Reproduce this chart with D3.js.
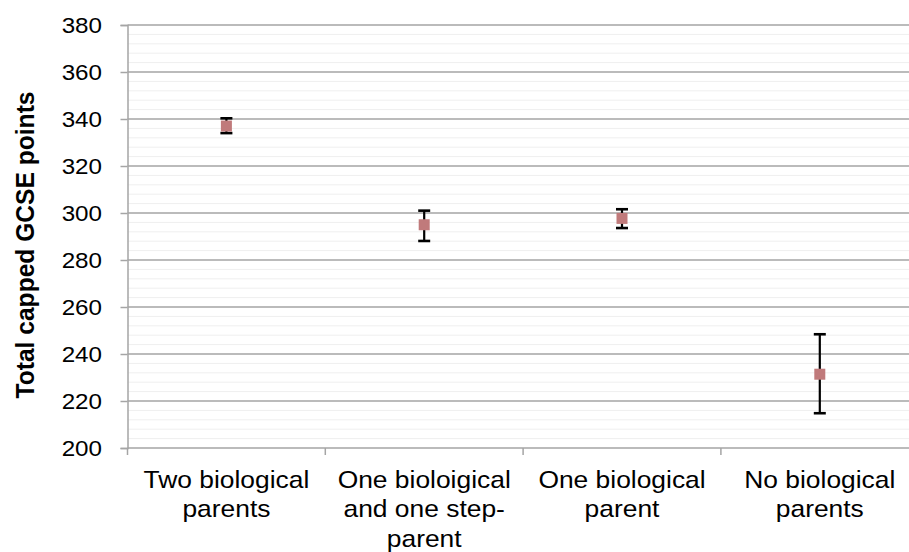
<!DOCTYPE html>
<html>
<head>
<meta charset="utf-8">
<script src="https://cdn.jsdelivr.net/npm/d3@7"></script>
<style>
  html, body { margin: 0; padding: 0; background: #fff; overflow: hidden; }
  svg { display: block; font-family: "Liberation Sans", Arial, sans-serif; }
</style>
</head>
<body>
<svg id="chart" width="909" height="552"></svg>
<script>
// Household structure categories (each label split into display lines)
const categories = [
  ["Two biological", "parents"],
  ["One bioloigical", "and one step-", "parent"],
  ["One biological", "parent"],
  ["No biological", "parents"]
];
// Mean total capped GCSE points and confidence bounds
const means = [337, 295, 297.7, 231.4];
const lower = [334, 288.1, 293.6, 214.8];
const upper = [340.3, 301, 301.6, 248.4];
const yTicks = [200, 220, 240, 260, 280, 300, 320, 340, 360, 380];

const svg = d3.select("#chart");
const margin = { left: 127.5, top: 25, bottom: 448, right: 918.7 };
const FONT = "Liberation Sans, Arial, sans-serif";

const x = d3.scaleBand()
  .domain(d3.range(categories.length))
  .range([margin.left, margin.right])
  .paddingInner(0).paddingOuter(0);

const y = d3.scaleLinear().domain([200, 380]).range([margin.bottom, margin.top]);

// minor gridlines every 4 points
const minor = d3.range(200, 381, 4).filter(v => v % 20 !== 0);
svg.append("g").selectAll("line").data(minor).join("line")
  .attr("x1", margin.left).attr("x2", margin.right)
  .attr("y1", d => y(d)).attr("y2", d => y(d))
  .attr("stroke", "#efefef").attr("stroke-width", 1);

// major gridlines
svg.append("g").selectAll("line").data(yTicks.filter(v => v !== 200)).join("line")
  .attr("x1", margin.left).attr("x2", margin.right)
  .attr("y1", d => y(d)).attr("y2", d => y(d))
  .attr("stroke", "#a5a5a5").attr("stroke-width", 1.5);

// y axis
const yAxis = d3.axisLeft(y).tickValues(yTicks).tickSize(7).tickPadding(0).tickFormat(d3.format("d"));
const gy = svg.append("g").attr("transform", `translate(${margin.left},0)`).call(yAxis);
gy.select(".domain").attr("stroke", "#a5a5a5").attr("stroke-width", 1.5);
gy.selectAll(".tick line").attr("stroke", "#a5a5a5").attr("stroke-width", 1.5);
gy.selectAll(".tick text")
  .attr("x", null)
  .attr("font-size", 22).attr("fill", "#000").attr("font-family", FONT)
  .attr("transform", "translate(-25.5,0) scale(1.1,1)");

// x axis baseline and category boundary ticks
const boundaries = d3.range(categories.length + 1).map(i => margin.left + i * x.bandwidth());
svg.append("line")
  .attr("x1", margin.left).attr("x2", margin.right)
  .attr("y1", y(200)).attr("y2", y(200))
  .attr("stroke", "#a5a5a5").attr("stroke-width", 1.5);
svg.append("g").selectAll("line").data(boundaries).join("line")
  .attr("x1", d => d).attr("x2", d => d)
  .attr("y1", y(200)).attr("y2", y(200) + 7)
  .attr("stroke", "#a5a5a5").attr("stroke-width", 1.5);

// category labels
const labels = svg.append("g").selectAll("text").data(categories).join("text")
  .attr("transform", (d, i) => `translate(${x(i) + x.bandwidth() / 2},488) scale(1.1,1)`)
  .attr("text-anchor", "middle")
  .attr("font-size", 24)
  .attr("fill", "#000");
labels.selectAll("tspan").data(d => d).join("tspan")
  .attr("x", 0)
  .attr("y", (d, i) => i * 29.5)
  .text(d => d);

// y axis title
svg.append("text")
  .attr("transform", `translate(33.5,245) rotate(-90) scale(1,1.07)`)
  .attr("text-anchor", "middle")
  .attr("font-size", 24.6)
  .attr("font-weight", "bold")
  .attr("fill", "#000")
  .text("Total capped GCSE points");

// error bars
const cx = i => x(i) + x.bandwidth() / 2;
const eb = svg.append("g").attr("stroke", "#000").attr("stroke-width", 2.2);
means.forEach((m, i) => {
  eb.append("line").attr("x1", cx(i)).attr("x2", cx(i)).attr("y1", y(upper[i])).attr("y2", y(lower[i]));
  eb.append("line").attr("x1", cx(i) - 6).attr("x2", cx(i) + 6).attr("y1", y(upper[i])).attr("y2", y(upper[i])).attr("stroke-width", 2.6);
  eb.append("line").attr("x1", cx(i) - 6).attr("x2", cx(i) + 6).attr("y1", y(lower[i])).attr("y2", y(lower[i])).attr("stroke-width", 2.6);
});

// mean markers
svg.append("g").selectAll("rect").data(means).join("rect")
  .attr("x", (d, i) => cx(i) - 5.5)
  .attr("y", d => y(d) - 5.5)
  .attr("width", 11).attr("height", 11)
  .attr("fill", "#c07a7b");
</script>
</body>
</html>
